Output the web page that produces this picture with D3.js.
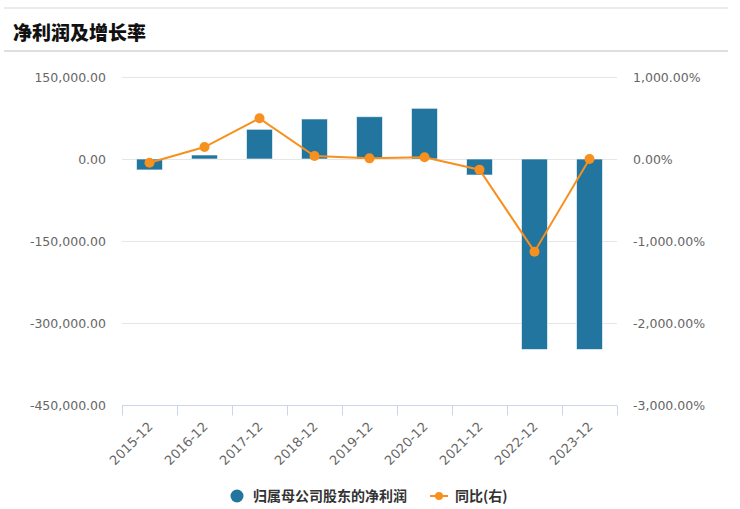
<!DOCTYPE html>
<html><head><meta charset="utf-8">
<script src="https://cdn.jsdelivr.net/npm/d3@7/dist/d3.min.js"></script>
<style>
html,body{margin:0;padding:0;background:#fff;}
svg{display:block;}
</style></head>
<body><svg id="c" width="740" height="509"></svg>
<script>
const categories = ["2015-12","2016-12","2017-12","2018-12","2019-12","2020-12","2021-12","2022-12","2023-12"];
const netProfit = [-20000, 7300, 54300, 73200, 77400, 92700, -29300, -348500, -348500];
const yoyGrowth = [-45, 146, 496, 37, 8, 21, -130, -1130, 0];
const leftTicks = [150000, 0, -150000, -300000, -450000];
const rightTicks = [1000, 0, -1000, -2000, -3000];
const titleText = "净利润及增长率";
const seriesNames = ["归属母公司股东的净利润", "同比(右)"];

const svg = d3.select("#c");
const barColor = "#21759f", lineColor = "#f7901e";
const loc = d3.formatLocale({decimal:".", thousands:",", grouping:[3], currency:["",""], minus:"-"});
const fmt = loc.format(",.2f");
const numFont = "DejaVu Sans";
const cjk = "'Noto Sans CJK SC','Noto Sans',sans-serif";

// header lines & title
svg.append("rect").attr("x",4).attr("y",7).attr("width",724).attr("height",2).attr("fill","#ebebeb");
svg.append("rect").attr("x",4).attr("y",50).attr("width",724).attr("height",2).attr("fill","#dedede");
svg.append("text").attr("x",13).attr("y",40).text(titleText)
  .attr("font-family",cjk).attr("font-weight",900).attr("font-size",19).attr("fill","#111");

const x0 = 122, x1 = 617, yTop = 77, yBot = 405;
const x = d3.scaleBand().domain(categories).range([x0,x1]).paddingInner(0).paddingOuter(0);
const yL = d3.scaleLinear().domain([-450000,150000]).range([yBot,yTop]);
const yR = d3.scaleLinear().domain([-3000,1000]).range([yBot,yTop]);

// gridlines
svg.append("g").selectAll("line").data(leftTicks).join("line")
  .attr("x1",x0).attr("x2",x1).attr("y1",d=>Math.round(yL(d))+0.5).attr("y2",d=>Math.round(yL(d))+0.5)
  .attr("stroke","#e6e6e6").attr("stroke-width",1);

// left axis labels
const gl = svg.append("g").attr("transform",`translate(${x0},0)`)
  .call(d3.axisLeft(yL).tickValues(leftTicks).tickFormat(fmt).tickSize(0).tickPadding(16));
gl.select(".domain").remove();
gl.selectAll("text").attr("font-family",numFont).attr("font-size",12.5).attr("fill","#666");

// right axis labels
const gr = svg.append("g").attr("transform",`translate(${x1},0)`)
  .call(d3.axisRight(yR).tickValues(rightTicks).tickFormat(d=>fmt(d)+"%").tickSize(0).tickPadding(16));
gr.select(".domain").remove();
gr.selectAll("text").attr("font-family",numFont).attr("font-size",12.5).attr("fill","#666");

// bars
const bw = 26;
svg.append("g").selectAll("rect").data(netProfit).join("rect")
  .attr("x",(d,i)=>x(categories[i])+x.bandwidth()/2-bw/2)
  .attr("width",bw)
  .attr("y",d=>Math.min(yL(d),yL(0)))
  .attr("height",d=>Math.abs(yL(d)-yL(0)))
  .attr("fill",barColor).attr("stroke","#fff").attr("stroke-width",1).attr("stroke-opacity",0.6);

// x axis
const gx = svg.append("g").attr("transform",`translate(0,${yBot+0.5})`)
  .call(d3.axisBottom(x).tickSize(0).tickPadding(0));
gx.select(".domain").attr("stroke","#ccd6eb").attr("d",`M${x0},0H${x1}`);
gx.selectAll(".tick line").remove();
gx.append("g").selectAll("line").data(categories.concat(["__end"])).join("line")
  .attr("x1",(d,i)=>x0+i*x.step()+0.5).attr("x2",(d,i)=>x0+i*x.step()+0.5)
  .attr("y1",0).attr("y2",10).attr("stroke","#ccd6eb");
gx.selectAll(".tick text")
  .attr("font-family",numFont).attr("font-size",13).attr("fill","#666")
  .attr("text-anchor","end").attr("dy",0)
  .attr("transform","translate(4,22) rotate(-45)");

// line
const cx = (d,i)=>x(categories[i])+x.bandwidth()/2;
svg.append("path").datum(yoyGrowth)
  .attr("d",d3.line().x(cx).y(d=>yR(d)))
  .attr("fill","none").attr("stroke",lineColor).attr("stroke-width",2);
svg.append("g").selectAll("circle").data(yoyGrowth).join("circle")
  .attr("cx",cx).attr("cy",d=>yR(d)).attr("r",5).attr("fill",lineColor);

// legend
const lg = svg.append("g");
lg.append("circle").attr("cx",237).attr("cy",496).attr("r",6.5).attr("fill",barColor);
lg.append("text").attr("x",253).attr("y",501).text(seriesNames[0])
  .attr("font-family",cjk).attr("font-weight",700).attr("font-size",14).attr("fill","#333");
lg.append("line").attr("x1",430).attr("x2",448).attr("y1",496).attr("y2",496).attr("stroke",lineColor).attr("stroke-width",2);
lg.append("circle").attr("cx",439).attr("cy",496).attr("r",4).attr("fill",lineColor);
lg.append("text").attr("x",455).attr("y",501).text(seriesNames[1])
  .attr("font-family",cjk).attr("font-weight",700).attr("font-size",14).attr("fill","#333");
</script></body></html>
